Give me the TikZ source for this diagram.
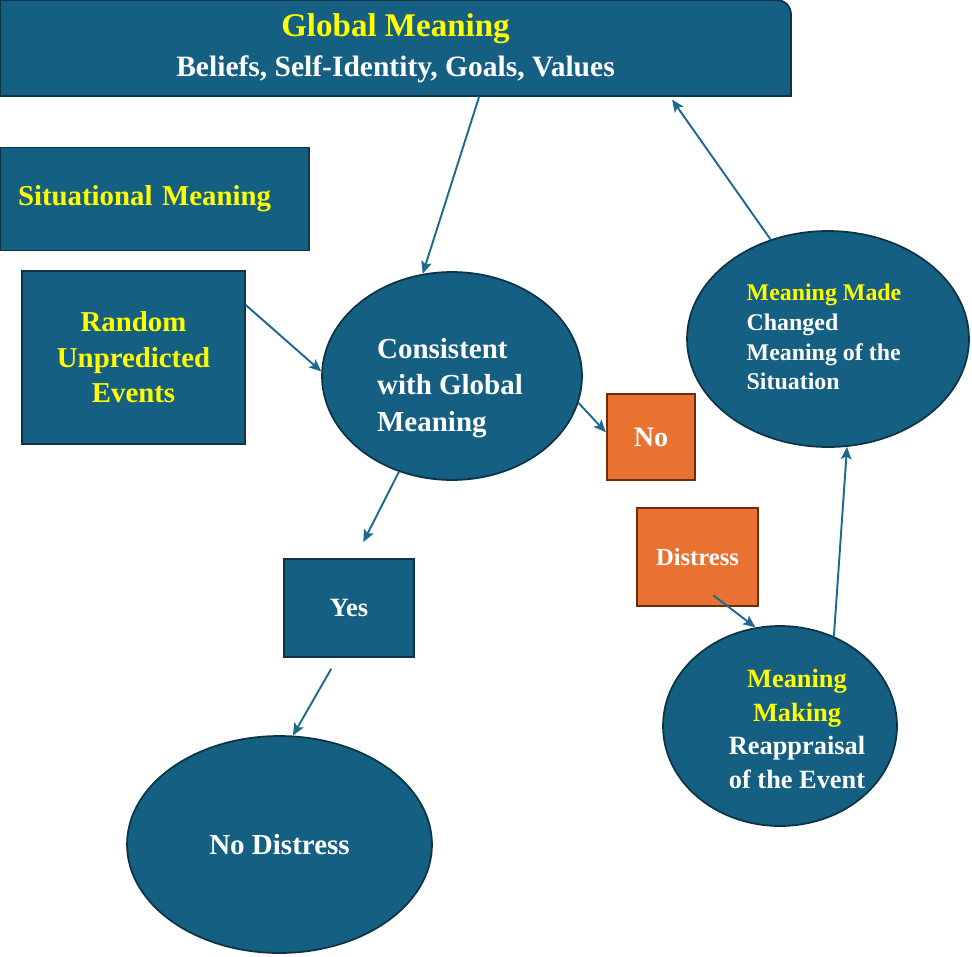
\documentclass[tikz,border=0pt]{standalone}
\usepackage{fontspec}
\setmainfont{Liberation Serif}
\usetikzlibrary{arrows.meta, shapes.geometric, positioning}
\definecolor{khoi}{HTML}{156082}
\definecolor{vienkhoi}{HTML}{0B3446}
\definecolor{cam}{HTML}{E97132}
\definecolor{viencam}{HTML}{6E2C0A}
\definecolor{muiten}{HTML}{1D6A8D}
\definecolor{vang}{HTML}{FFFF00}

\begin{document}
\begin{tikzpicture}[x=0.02cm, y=-0.02cm,
    hop/.style={rectangle, draw=vienkhoi, fill=khoi, line width=1pt, text=white, inner sep=0pt, align=center},
    elip/.style={ellipse, draw=vienkhoi, fill=khoi, line width=1pt, inner sep=0pt},
    hopcam/.style={rectangle, draw=viencam, fill=cam, line width=1.3pt, text=white, inner sep=0pt},
    chu/.style={text=white, inner sep=0pt},
    luong/.style={-{Stealth[length=7pt,width=6pt,inset=1.5pt]}, draw=muiten, line width=1.1pt}]

        \useasboundingbox (0,0) rectangle (972,956); % Khung hình

        % Vẽ hộp Global Meaning (góc trên phải bo tròn)
        \draw[fill=khoi, draw=vienkhoi, line width=1pt] (0,96) -- (0,0) -- (776,0) .. controls (785,0) and (791,6) .. (791,15) -- (791,96) -- cycle;
        \node[rectangle, inner sep=0pt, minimum width=15.82cm, minimum height=1.92cm, align=center, text=white,
              font=\bfseries\fontsize{16.8}{22.7}\selectfont] (glob) at (395.5,48)
              {{\fontsize{18.8}{22.7}\selectfont\color{vang}Global Meaning}\\Beliefs, Self-Identity, Goals, Values}; % Tiêu đề

        % Vẽ các hộp bên trái
        \node[hop, minimum width=6.18cm, minimum height=2.06cm, text width=5.46cm, inner xsep=0.36cm, align=left,
              text=vang, font=\bfseries\fontsize{16.4}{20}\selectfont] (sit) at (154.5,199) {Situational Meaning}; % Hộp Situational
        \node[hop, minimum width=4.46cm, minimum height=3.46cm, text=vang,
              font=\bfseries\fontsize{16.4}{20.2}\selectfont] (rand) at (133.5,357.5) {Random\\Unpredicted\\Events}; % Hộp Random

        % Vẽ elip Consistent
        \node[elip, minimum width=5.2cm, minimum height=4.16cm] (cons) at (452,376) {};
        \node[chu, align=left, font=\bfseries\fontsize{16.5}{20.7}\selectfont] (cons-t) at (450,388) {Consistent\\with Global\\Meaning};

        % Vẽ các hộp No, Distress, Yes
        \node[hopcam, minimum width=1.76cm, minimum height=1.72cm, font=\bfseries\fontsize{16}{19}\selectfont] (no) at (651,437) {No};
        \node[hopcam, minimum width=2.42cm, minimum height=1.96cm, font=\bfseries\fontsize{14}{17}\selectfont] (dis) at (697.5,557) {Distress};
        \node[hop, minimum width=2.6cm, minimum height=1.96cm, font=\bfseries\fontsize{15}{18}\selectfont] (yes) at (349,608) {Yes};

        % Vẽ elip No Distress
        \node[elip, minimum width=6.1cm, minimum height=4.34cm, text=white,
              font=\bfseries\fontsize{16.5}{20}\selectfont] (nodis) at (279.5,844.5) {No Distress};

        % Vẽ elip Meaning Making
        \node[elip, minimum width=4.68cm, minimum height=4cm] (mm) at (780,726) {};
        \node[chu, align=center, font=\bfseries\fontsize{15}{19}\selectfont] (mm-t) at (797,729)
              {\textcolor{vang}{Meaning}\\\textcolor{vang}{Making}\\Reappraisal\\of the Event};

        % Vẽ elip Meaning Made
        \node[elip, minimum width=5.64cm, minimum height=4.32cm] (made) at (828,339) {};
        \node[chu, align=left, font=\bfseries\fontsize{13.6}{17}\selectfont] (made-t) at (824,337)
              {\textcolor{vang}{Meaning Made}\\Changed\\Meaning of the\\Situation};

        % Vẽ các mũi tên
        \draw[luong] (glob.-30) -- (cons.106); % Global -> Consistent
        \draw[luong] (rand.25) -- (cons.178); % Random -> Consistent
        \draw[luong] (cons.-12) -- (no.174); % Consistent -> No
        \draw[luong, shorten >=0.36cm] (cons.-119) -- (yes.83); % Consistent -> Yes
        \draw[luong, shorten <=0.25cm] (yes.-103) -- (nodis.83); % Yes -> No Distress
        \draw[luong, shorten <=-0.39cm] (dis.-58) -- (mm.104); % Distress -> Meaning Making
        \draw[luong] (mm.59) -- (made.-80); % Meaning Making -> Meaning Made
        \draw[luong, shorten >=0.08cm] (made.120) -- (glob.-10.4); % Meaning Made -> Global

        \end{tikzpicture}
\end{document}
